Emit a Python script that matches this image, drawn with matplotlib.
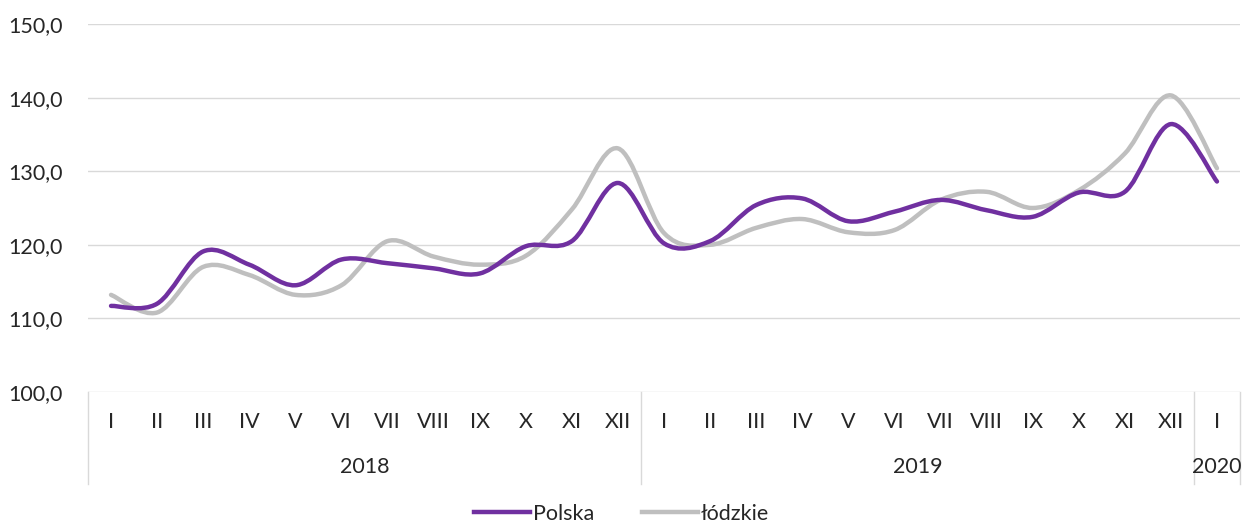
import matplotlib.pyplot as plt
import numpy as np
from matplotlib.path import Path
from matplotlib.patches import PathPatch
from matplotlib.lines import Line2D
import matplotlib.transforms as mtransforms

plt.rcParams['font.family'] = ['Lato', 'DejaVu Sans']

months = ["I", "II", "III", "IV", "V", "VI", "VII", "VIII", "IX", "X", "XI", "XII",
          "I", "II", "III", "IV", "V", "VI", "VII", "VIII", "IX", "X", "XI", "XII",
          "I"]
years = ["2018", "2019", "2020"]
year_counts = [12, 12, 1]

polska = [111.7, 112.0, 119.1, 117.3, 114.5, 118.0, 117.5, 116.8, 116.1, 119.8, 120.5, 128.4,
          120.2, 120.5, 125.4, 126.3, 123.2, 124.5, 126.1, 124.7, 123.8, 127.1, 127.2, 136.4,
          128.6]
lodzkie = [113.2, 110.8, 117.0, 115.9, 113.2, 114.5, 120.5, 118.4, 117.3, 118.5, 124.8, 133.1,
           121.6, 120.0, 122.3, 123.5, 121.7, 122.0, 126.1, 127.2, 125.0, 127.4, 132.4, 140.3,
           130.4]

PURPLE = "#7030A0"
GREY = "#BFBFBF"
TXT = "#262626"
FS = 15.5


def smooth_path(x, y):
    # Excel-like smoothed line: cubic Bezier segments through the points
    pts = np.column_stack([x, y]).astype(float)
    n = len(pts)
    verts = [pts[0]]
    codes = [Path.MOVETO]
    for i in range(n - 1):
        p0 = pts[i - 1] if i > 0 else pts[i]
        p1 = pts[i]
        p2 = pts[i + 1]
        p3 = pts[i + 2] if i + 2 < n else pts[i + 1]
        c1 = p1 + (p2 - p0) / 6.0
        c2 = p2 - (p3 - p1) / 6.0
        verts += [c1, c2, p2]
        codes += [Path.CURVE4] * 3
    return Path(verts, codes)


fig = plt.figure(figsize=(12.43, 5.24), dpi=100)
ax = fig.add_axes([88 / 1243, 1 - 392 / 524, (1240 - 88) / 1243, (392 - 24) / 524])

x = np.arange(len(months))
for vals, col, z in [(lodzkie, GREY, 2), (polska, PURPLE, 3)]:
    ax.add_patch(PathPatch(smooth_path(x, vals), fill=False, edgecolor=col,
                           linewidth=3.2, capstyle='round', joinstyle='round', zorder=z))

ax.set_xlim(-0.5, len(months) - 0.5)
ax.set_ylim(100, 150)
ax.set_yticks(np.arange(100, 151, 10))
ax.set_yticklabels([f"{v:.1f}".replace(".", ",") for v in np.arange(100, 151, 10)],
                   fontsize=FS, color=TXT)
ax.tick_params(axis='y', length=0, pad=18)
ax.set_xticks([])
ax.grid(axis='y', color="#D9D9D9", linewidth=1)
ax.set_axisbelow(True)
for s in ax.spines.values():
    s.set_visible(False)

trans = mtransforms.blended_transform_factory(ax.transData, ax.transAxes)
for i, m in enumerate(months):
    ax.text(i, -30 / 368, m, transform=trans, ha='center', va='center',
            fontsize=FS, color=TXT)

start = 0
bounds = [-0.5]
for yr, cnt in zip(years, year_counts):
    mid = start + (cnt - 1) / 2
    ax.text(mid, -75 / 368, yr, transform=trans, ha='center', va='center',
            fontsize=FS, color=TXT)
    start += cnt
    bounds.append(start - 0.5)
for b in bounds:
    ax.plot([b, b], [0, -92 / 368], transform=trans, color="#D9D9D9",
            linewidth=1, clip_on=False)

handles = [Line2D([], [], color=PURPLE, linewidth=3.2),
           Line2D([], [], color=GREY, linewidth=3.2)]
fig.legend(handles, ["Polska", "łódzkie"], loc='center',
           bbox_to_anchor=(0.5, 10 / 524), ncol=2, frameon=False,
           fontsize=FS, labelcolor=TXT, handlelength=2.6, handletextpad=0.15,
           columnspacing=2.2)

fig.savefig("out.png", dpi=100)
